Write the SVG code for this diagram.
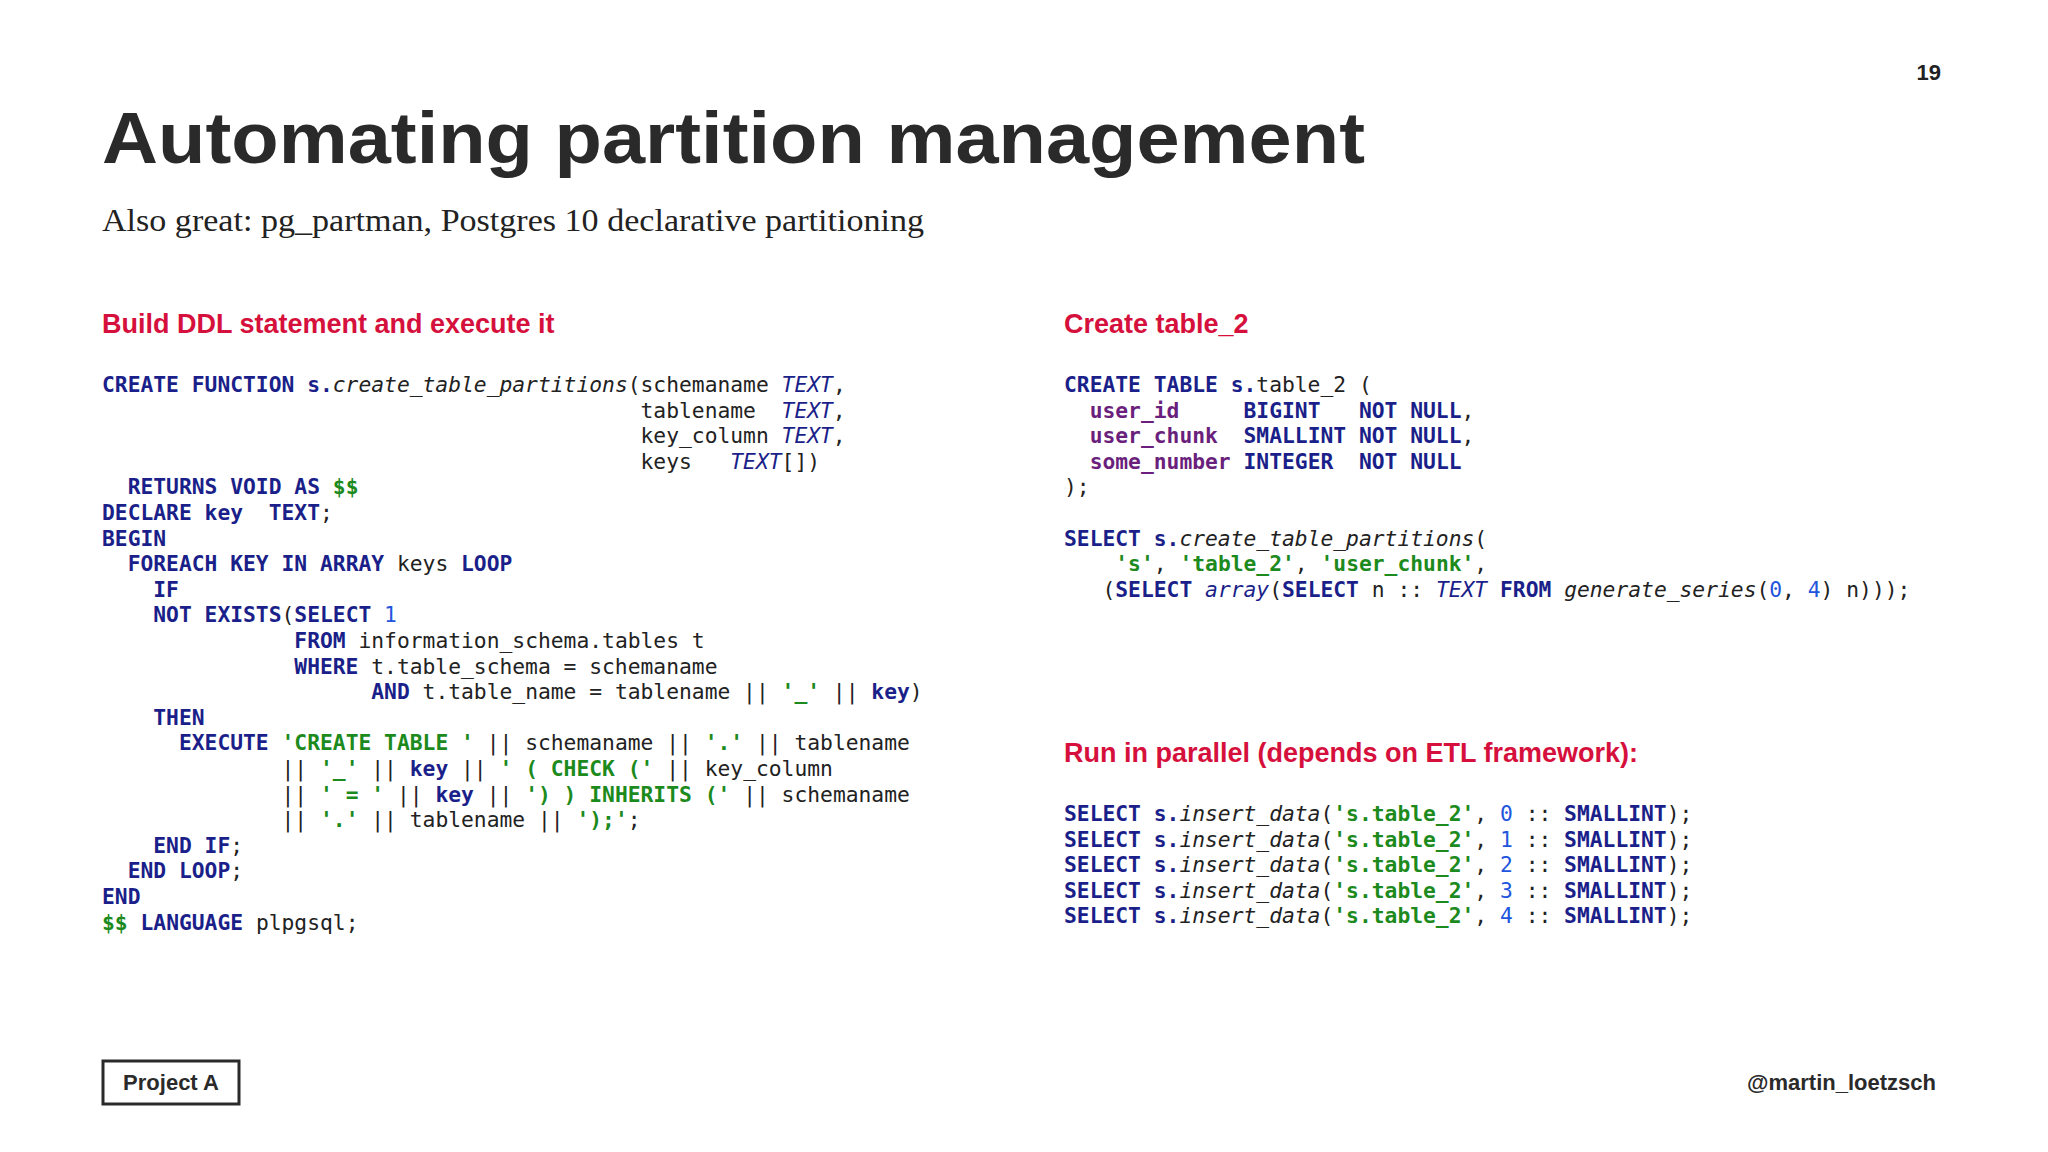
<svg xmlns="http://www.w3.org/2000/svg" width="2048" height="1152" viewBox="0 0 2048 1152">
<style>
.code{font-family:"DejaVu Sans Mono","Liberation Mono",monospace;font-size:21.3px;fill:#222;white-space:pre}
.k{fill:#1b1f8a;font-weight:bold}
.t{fill:#1b1f8a;font-style:italic}
.s{fill:#1c8a1c;font-weight:bold}
.n{fill:#2255dd}
.f{font-style:italic;fill:#222}
.c{fill:#6b1f7c;font-weight:bold}
.h{font-family:"Liberation Sans",Arial,sans-serif;font-weight:bold;font-size:27px;fill:#d6103c}
</style>
<rect width="2048" height="1152" fill="#fff"/>
<g id="header">
<text x="1941" y="80" text-anchor="end" font-family="Liberation Sans,Arial,sans-serif" font-weight="bold" font-size="22" fill="#222">19</text>
<text x="102" y="163" font-family="Liberation Sans,Arial,sans-serif" font-weight="bold" font-size="72" fill="#2a2a2a" textLength="1263" lengthAdjust="spacingAndGlyphs">Automating partition management</text>
<text x="102" y="231" font-family="Liberation Serif,Times New Roman,serif" font-size="31" fill="#222" textLength="822" lengthAdjust="spacingAndGlyphs">Also great: pg_partman, Postgres 10 declarative partitioning</text>
</g>
<g id="left">
<text class="h" x="102" y="333">Build DDL statement and execute it</text>
<text class="code" xml:space="preserve">
<tspan x="102" y="392"><tspan class="k">CREATE FUNCTION s.</tspan><tspan class="f">create_table_partitions</tspan>(schemaname <tspan class="t">TEXT</tspan>,</tspan>
<tspan x="102" y="417.6">                                          tablename  <tspan class="t">TEXT</tspan>,</tspan>
<tspan x="102" y="443.2">                                          key_column <tspan class="t">TEXT</tspan>,</tspan>
<tspan x="102" y="468.8">                                          keys   <tspan class="t">TEXT</tspan>[])</tspan>
<tspan x="102" y="494.4">  <tspan class="k">RETURNS VOID AS </tspan><tspan class="s">$$</tspan></tspan>
<tspan x="102" y="520"><tspan class="k">DECLARE key  TEXT</tspan>;</tspan>
<tspan x="102" y="545.6"><tspan class="k">BEGIN</tspan></tspan>
<tspan x="102" y="571.2">  <tspan class="k">FOREACH KEY IN ARRAY</tspan> keys <tspan class="k">LOOP</tspan></tspan>
<tspan x="102" y="596.8">    <tspan class="k">IF</tspan></tspan>
<tspan x="102" y="622.4">    <tspan class="k">NOT EXISTS</tspan>(<tspan class="k">SELECT</tspan> <tspan class="n">1</tspan></tspan>
<tspan x="102" y="648">               <tspan class="k">FROM</tspan> information_schema.tables t</tspan>
<tspan x="102" y="673.6">               <tspan class="k">WHERE</tspan> t.table_schema = schemaname</tspan>
<tspan x="102" y="699.2">                     <tspan class="k">AND</tspan> t.table_name = tablename || <tspan class="s">'_'</tspan> || <tspan class="k">key</tspan>)</tspan>
<tspan x="102" y="724.8">    <tspan class="k">THEN</tspan></tspan>
<tspan x="102" y="750.4">      <tspan class="k">EXECUTE</tspan> <tspan class="s">'CREATE TABLE '</tspan> || schemaname || <tspan class="s">'.'</tspan> || tablename</tspan>
<tspan x="102" y="776">              || <tspan class="s">'_'</tspan> || <tspan class="k">key</tspan> || <tspan class="s">' ( CHECK ('</tspan> || key_column</tspan>
<tspan x="102" y="801.6">              || <tspan class="s">' = '</tspan> || <tspan class="k">key</tspan> || <tspan class="s">') ) INHERITS ('</tspan> || schemaname</tspan>
<tspan x="102" y="827.2">              || <tspan class="s">'.'</tspan> || tablename || <tspan class="s">');'</tspan>;</tspan>
<tspan x="102" y="852.8">    <tspan class="k">END IF</tspan>;</tspan>
<tspan x="102" y="878.4">  <tspan class="k">END LOOP</tspan>;</tspan>
<tspan x="102" y="904"><tspan class="k">END</tspan></tspan>
<tspan x="102" y="929.6"><tspan class="s">$$</tspan> <tspan class="k">LANGUAGE</tspan> plpgsql;</tspan>
</text>
</g>
<g id="right-top">
<text class="h" x="1064" y="333">Create table_2</text>
<text class="code" xml:space="preserve">
<tspan x="1064" y="392"><tspan class="k">CREATE TABLE s.</tspan>table_2 (</tspan>
<tspan x="1064" y="417.6">  <tspan class="c">user_id</tspan>     <tspan class="k">BIGINT</tspan>   <tspan class="k">NOT NULL</tspan>,</tspan>
<tspan x="1064" y="443.2">  <tspan class="c">user_chunk</tspan>  <tspan class="k">SMALLINT NOT NULL</tspan>,</tspan>
<tspan x="1064" y="468.8">  <tspan class="c">some_number</tspan> <tspan class="k">INTEGER</tspan>  <tspan class="k">NOT NULL</tspan></tspan>
<tspan x="1064" y="494.4">);</tspan>
<tspan x="1064" y="545.6"><tspan class="k">SELECT s.</tspan><tspan class="f">create_table_partitions</tspan>(</tspan>
<tspan x="1064" y="571.2">    <tspan class="s">'s'</tspan>, <tspan class="s">'table_2'</tspan>, <tspan class="s">'user_chunk'</tspan>,</tspan>
<tspan x="1064" y="596.8">   (<tspan class="k">SELECT</tspan> <tspan class="t">array</tspan>(<tspan class="k">SELECT</tspan> n :: <tspan class="t">TEXT</tspan> <tspan class="k">FROM</tspan> <tspan class="f">generate_series</tspan>(<tspan class="n">0</tspan>, <tspan class="n">4</tspan>) n)));</tspan>
</text>
</g>
<g id="right-bottom">
<text class="h" x="1064" y="762">Run in parallel (depends on ETL framework):</text>
<text class="code" xml:space="preserve">
<tspan x="1064" y="821"><tspan class="k">SELECT s.</tspan><tspan class="f">insert_data</tspan>(<tspan class="s">'s.table_2'</tspan>, <tspan class="n">0</tspan> :: <tspan class="k">SMALLINT</tspan>);</tspan>
<tspan x="1064" y="846.6"><tspan class="k">SELECT s.</tspan><tspan class="f">insert_data</tspan>(<tspan class="s">'s.table_2'</tspan>, <tspan class="n">1</tspan> :: <tspan class="k">SMALLINT</tspan>);</tspan>
<tspan x="1064" y="872.2"><tspan class="k">SELECT s.</tspan><tspan class="f">insert_data</tspan>(<tspan class="s">'s.table_2'</tspan>, <tspan class="n">2</tspan> :: <tspan class="k">SMALLINT</tspan>);</tspan>
<tspan x="1064" y="897.8"><tspan class="k">SELECT s.</tspan><tspan class="f">insert_data</tspan>(<tspan class="s">'s.table_2'</tspan>, <tspan class="n">3</tspan> :: <tspan class="k">SMALLINT</tspan>);</tspan>
<tspan x="1064" y="923.4"><tspan class="k">SELECT s.</tspan><tspan class="f">insert_data</tspan>(<tspan class="s">'s.table_2'</tspan>, <tspan class="n">4</tspan> :: <tspan class="k">SMALLINT</tspan>);</tspan>
</text>
</g>
<g id="footer">
<rect x="103" y="1061" width="136" height="43" fill="none" stroke="#2a2a2a" stroke-width="3"/>
<text x="171" y="1090" text-anchor="middle" font-family="Liberation Sans,Arial,sans-serif" font-weight="bold" font-size="22" fill="#2a2a2a">Project A</text>
<text x="1936" y="1090" text-anchor="end" font-family="Liberation Sans,Arial,sans-serif" font-weight="bold" font-size="22" fill="#2a2a2a">@martin_loetzsch</text>
</g>
</svg>
